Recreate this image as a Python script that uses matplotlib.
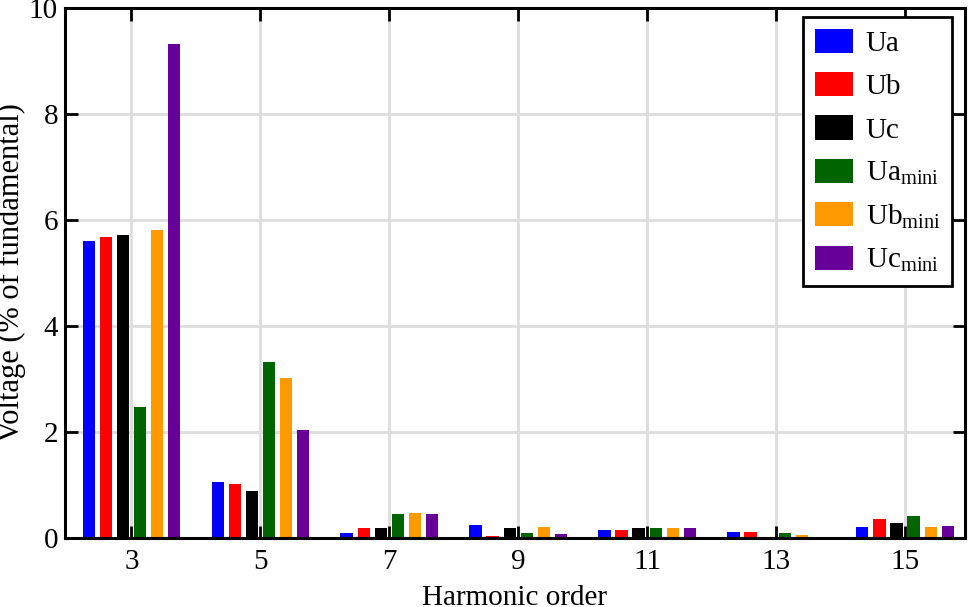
import numpy as np
import matplotlib
matplotlib.use("Agg")
from matplotlib import pyplot as plt

plt.rcParams['font.family'] = ['Liberation Serif', 'DejaVu Serif']
plt.rcParams['mathtext.fontset'] = 'custom'
plt.rcParams['mathtext.rm'] = 'Liberation Serif'
plt.rcParams['mathtext.it'] = 'Liberation Serif:italic'

# harmonic orders and voltage harmonics (% of fundamental)
orders = [3, 5, 7, 9, 11, 13, 15]
ua = [5.60, 1.05, 0.10, 0.25, 0.16, 0.12, 0.20]
ub = [5.67, 1.02, 0.18, 0.03, 0.15, 0.12, 0.36]
uc = [5.72, 0.89, 0.18, 0.19, 0.19, 0.02, 0.28]
ua_mini = [2.47, 3.32, 0.45, 0.10, 0.18, 0.09, 0.41]
ub_mini = [5.81, 3.02, 0.47, 0.21, 0.19, 0.06, 0.21]
uc_mini = [9.32, 2.04, 0.45, 0.08, 0.19, 0.01, 0.23]

series = [ua, ub, uc, ua_mini, ub_mini, uc_mini]
labels = ['Ua', 'Ub', 'Uc', r'Ua$_{\mathrm{mini}}$', r'Ub$_{\mathrm{mini}}$', r'Uc$_{\mathrm{mini}}$']
colors = ['#0000ff', '#ff0000', '#000000', '#006400', '#ff9900', '#660099']

fig = plt.figure(figsize=(9.69, 6.07), dpi=100)
ax = fig.add_axes([65/969, 1-538/607, 900/969, 530/607])

x = np.array(orders, dtype=float)
step = 0.265
w = 0.19
for k, (vals, lab, c) in enumerate(zip(series, labels, colors)):
    ax.bar(x + (k-2.5)*step, vals, width=w, color=c, label=lab, zorder=3)

ax.set_xlim(1.97, 15.93)
ax.set_ylim(0, 10)
ax.set_xticks(orders)
ax.set_yticks([0, 2, 4, 6, 8, 10])
ax.grid(True, color='#dddddd', linewidth=2, zorder=0)
ax.tick_params(direction='in', length=9, width=2, top=True, right=True, labelsize=21)
ax.tick_params(axis='x', pad=8)
ax.tick_params(axis='y', pad=5)
for s in ax.spines.values():
    s.set_linewidth(2.2)
    s.set_zorder(5)

ax.set_xlabel('Harmonic order', fontsize=21)
ax.xaxis.set_label_coords(0.5, -0.088)
ax.set_ylabel('Voltage (% of fundamental)', fontsize=22)
ax.yaxis.set_label_coords(-0.043, 0.5)

leg = ax.legend(loc='upper right', fontsize=21, frameon=True, fancybox=False,
                edgecolor='black', framealpha=1, handlelength=1.3, handleheight=0.9,
                handletextpad=0.45, labelspacing=0.52, borderpad=0.4, borderaxespad=0,
                bbox_to_anchor=(0.986, 0.983))
leg.get_frame().set_linewidth(2)

fig.savefig('out.png', dpi=100)
